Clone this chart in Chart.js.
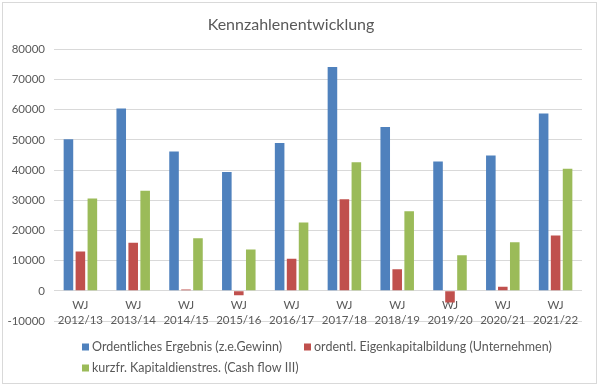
<!DOCTYPE html>
<html>
<head>
<meta charset="utf-8">
<script src="https://cdn.jsdelivr.net/npm/chart.js@4/dist/chart.umd.min.js"></script>
<style>
  html, body { margin: 0; padding: 0; background: #fff; }
  #wrap { width: 600px; height: 387px; }
</style>
</head>
<body>
<div id="wrap"><canvas id="chart"></canvas></div>
<script>
const years = ['2012/13', '2013/14', '2014/15', '2015/16', '2016/17',
  '2017/18', '2018/19', '2019/20', '2020/21', '2021/22'];
const ergebnis = [50200, 60400, 46100, 39300, 48900, 74100, 54200, 42800, 44800, 58700];
const eigenkapital = [13000, 15900, 400, -1500, 10600, 30300, 7100, -3900, 1300, 18300];
const kapitaldienst = [30600, 33100, 17400, 13700, 22600, 42600, 26300, 11800, 16100, 40400];
const yMin = -10000;
const yMax = 80000;
const yStep = 10000;

const textColor = '#595959';
const gridColor = '#d9d9d9';
const fontFamily = 'Lato, "Open Sans", sans-serif';

// border around the whole chart + legend laid out like the Excel one
const frameAndLegend = {
  id: 'frameAndLegend',
  beforeDraw(chart) {
    const ctx = chart.ctx;
    ctx.save();
    ctx.strokeStyle = gridColor;
    ctx.lineWidth = 1;
    ctx.strokeRect(2.5, 2.5, 594, 381);
    ctx.restore();
  },
  afterDraw(chart) {
    const ctx = chart.ctx;
    const spots = [[82, 347], [304, 347], [82, 368]];
    ctx.save();
    ctx.font = '12.5px ' + fontFamily;
    ctx.textBaseline = 'middle';
    chart.data.datasets.forEach((ds, i) => {
      const [x, y] = spots[i];
      ctx.fillStyle = ds.backgroundColor;
      ctx.fillRect(x, y - 3.5, 7, 7);
      ctx.fillStyle = textColor;
      ctx.fillText(ds.label, x + 10, y);
    });
    ctx.restore();
  }
};

new Chart(document.getElementById('chart'), {
  type: 'bar',
  data: {
    labels: years.map(y => ['WJ', y]),
    datasets: [
      {
        label: 'Ordentliches Ergebnis (z.e.Gewinn)',
        data: ergebnis,
        backgroundColor: '#4F81BD',
      },
      {
        label: 'ordentl. Eigenkapitalbildung (Unternehmen)',
        data: eigenkapital,
        backgroundColor: '#C0504D',
      },
      {
        label: 'kurzfr. Kapitaldienstres. (Cash flow III)',
        data: kapitaldienst,
        backgroundColor: '#9BBB59',
      },
    ],
  },
  options: {
    responsive: true,
    maintainAspectRatio: false,
    animation: false,
    categoryPercentage: 0.68,
    barPercentage: 0.8,
    layout: {padding: {top: 4, right: 18, bottom: 66, left: 0}},
    plugins: {
      legend: {display: false},
      tooltip: {enabled: false},
      title: {
        display: true,
        text: 'Kennzahlenentwicklung',
        color: textColor,
        font: {family: fontFamily, size: 16, weight: 'normal'},
        padding: {top: 11, bottom: 15},
      },
    },
    scales: {
      x: {
        position: {y: 0},
        grid: {display: false, drawTicks: false},
        border: {display: false},
        ticks: {
          color: textColor,
          font: {family: fontFamily, size: 11.5, lineHeight: 1.32},
          padding: 7,
          maxRotation: 0,
          autoSkip: false,
        },
      },
      y: {
        min: yMin,
        max: yMax,
        afterFit(scale) { scale.width = 54; },
        grid: {color: gridColor, drawTicks: false},
        border: {display: false},
        ticks: {
          stepSize: yStep,
          color: textColor,
          font: {family: fontFamily, size: 11.5},
          padding: 9,
          callback: v => String(v),
        },
      },
    },
  },
  plugins: [frameAndLegend],
});
</script>
</body>
</html>
